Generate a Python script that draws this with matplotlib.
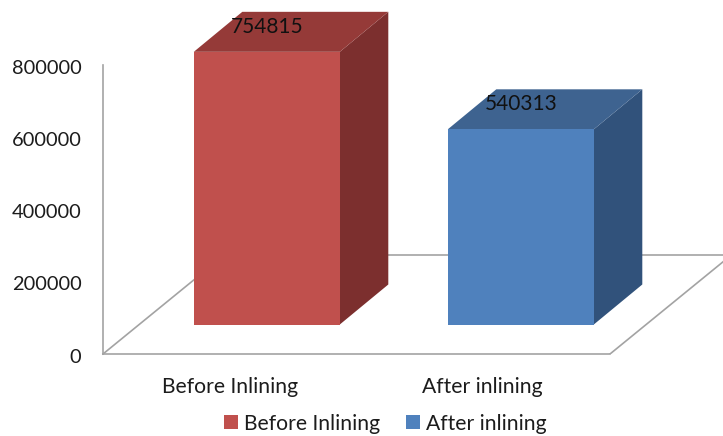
import matplotlib
matplotlib.use('Agg')
import matplotlib.pyplot as plt
from matplotlib.patches import Polygon, Patch
from matplotlib.transforms import ScaledTranslation

categories = ['Before Inlining', 'After inlining']
values = [754815, 540313]
yticks = [0, 200000, 400000, 600000, 800000]

front_colors = ['#C0504D', '#4F81BD']
side_colors = ['#7C2F2E', '#31527B']
top_colors = ['#953A38', '#3E6390']

plt.rcParams['font.family'] = ['Lato', 'DejaVu Sans']
text_color = '#1C1C1C'
line_color = '#A3A3A3'

W, H = 723, 436
fig = plt.figure(figsize=(W / 100, H / 100), dpi=100)
ax = fig.add_axes([103 / W, (H - 354) / H, (W - 103) / W, 289 / H])
ax.set_xlim(103, W)
ax.set_ylim(0, 800000)

# height of one pixel in value units, for the oblique depth
px = 800000 / 289
depth_x = 48.5
depth_y = 40 * px
base = 29.5 * px
bar_left = [193.8, 447.8]
bar_w = 146

# floor outline
floor_y = 99.5 * px
floor_dx = 122
ax.plot([103, 103 + floor_dx], [0, floor_y], color=line_color, lw=1.2, zorder=1, clip_on=False)
ax.plot([610, 610 + floor_dx], [0, floor_y], color=line_color, lw=1.2, zorder=1)
ax.plot([103 + floor_dx, 610 + floor_dx], [floor_y, floor_y], color=line_color, lw=1.2, zorder=1)

for spine in ['top', 'right']:
    ax.spines[spine].set_visible(False)
ax.spines['left'].set_color(line_color)
ax.spines['bottom'].set_color(line_color)
ax.spines['left'].set_linewidth(1.2)
ax.spines['bottom'].set_linewidth(1.2)
ax.spines['bottom'].set_bounds(103, 610)

# each bar is a front, a side and a top face
for i in range(len(values)):
    x0 = bar_left[i]
    x1 = x0 + bar_w
    y0 = base
    y1 = base + values[i]
    front = [(x0, y0), (x1, y0), (x1, y1), (x0, y1)]
    side = [(x1, y0), (x1 + depth_x, y0 + depth_y), (x1 + depth_x, y1 + depth_y), (x1, y1)]
    top = [(x0, y1), (x1, y1), (x1 + depth_x, y1 + depth_y), (x0 + depth_x, y1 + depth_y)]
    ax.add_patch(Polygon(side, facecolor=side_colors[i], edgecolor='none', zorder=3, clip_on=False))
    ax.add_patch(Polygon(top, facecolor=top_colors[i], edgecolor='none', zorder=3, clip_on=False))
    ax.add_patch(Polygon(front, facecolor=front_colors[i], edgecolor='none', zorder=4, clip_on=False))
    ax.annotate(str(values[i]), (x0 + bar_w / 2, y1), xytext=(0, 18), textcoords='offset points',
                ha='center', va='center', fontsize=15, color='#111111', zorder=5, annotation_clip=False)

ax.set_yticks(yticks)
ax.set_yticklabels([str(v) for v in yticks])
ax.set_xticks([230, 482.5])
ax.set_xticklabels(categories)
ax.tick_params(axis='y', length=0, pad=15.5, labelsize=14.4, labelcolor=text_color)
ax.tick_params(axis='x', length=0, pad=16.5, labelsize=15.2, labelcolor=text_color)

# nudge the value labels down a little
shift = ScaledTranslation(0, -1.5 / 100, fig.dpi_scale_trans)
for label in ax.get_yticklabels():
    label.set_transform(label.get_transform() + shift)

handles = [Patch(facecolor=front_colors[i], edgecolor='none', label=categories[i]) for i in range(2)]
fig.legend(handles=handles, loc='center', bbox_to_anchor=(385.5 / W, (H - 423.5) / H), ncol=2,
           frameon=False, fontsize=15.2, labelcolor=text_color, handlelength=0.66, handleheight=0.66,
           handletextpad=0.29, columnspacing=1.23, borderpad=0, borderaxespad=0)

fig.savefig('out.png', dpi=100)
